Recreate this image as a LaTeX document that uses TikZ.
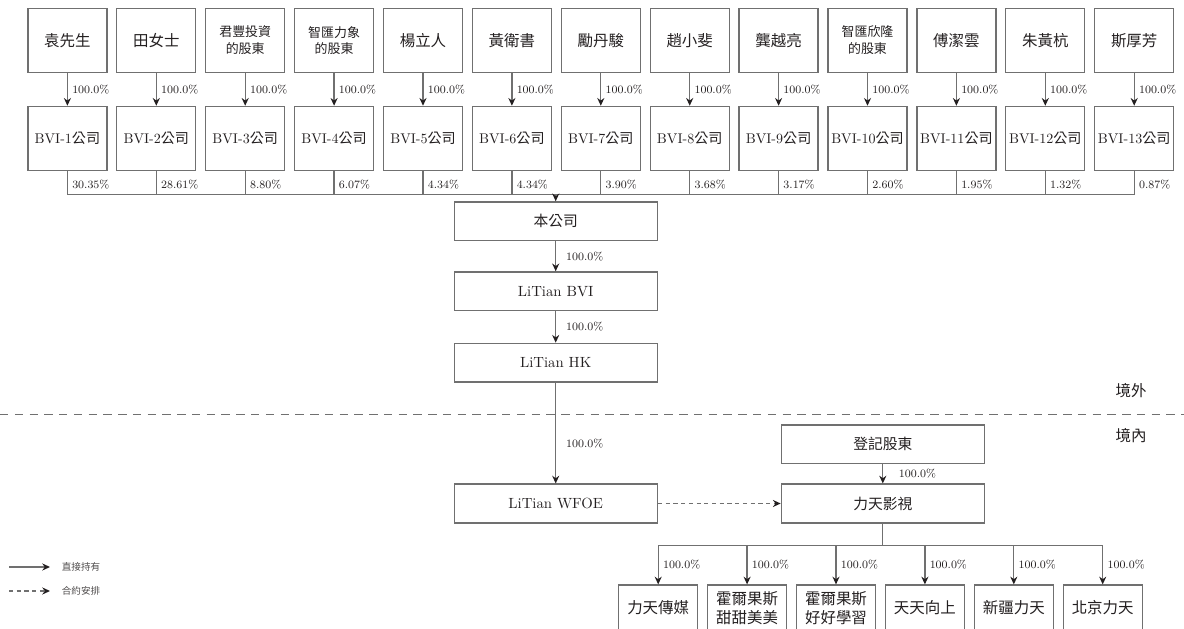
\documentclass[tikz,border=0pt]{standalone}
\usepackage{fontspec}
\newfontfamily\cjk{Noto Sans CJK TC}
\usetikzlibrary{arrows.meta}
\definecolor{ink}{HTML}{231F20}
\definecolor{linecol}{HTML}{707070}
\tikzset{
  box/.style={draw=linecol,line width=.9pt,inner sep=0pt,text=ink,align=center,
    font=\cjk\fontsize{11}{13}\selectfont},
  owner/.style={box,minimum width=1.975cm,minimum height=1.6cm},
  ownertwo/.style={owner,font=\cjk\fontsize{9.2}{12}\selectfont},
  bvibox/.style={owner,font=\cjk\fontsize{10}{12}\selectfont},
  mainbox/.style={box,minimum width=5.075cm,minimum height=.97cm,
    font=\cjk\fontsize{10.5}{12}\selectfont},
  subbox/.style={box,anchor=north,minimum width=1.975cm,minimum height=1.15cm,
    font=\cjk\fontsize{11}{13.5}\selectfont},
  line/.style={draw=linecol,line width=.9pt},
  arr/.style={line,-{Stealth[length=5.5pt,width=5pt,color=ink]}},
  pct/.style={right,inner sep=1pt,xshift=2pt,text=ink,font=\fontsize{8}{9}\selectfont},
  region/.style={text=ink,font=\cjk\fontsize{11}{13}\selectfont},
  legend/.style={right,inner sep=0pt,xshift=8pt,text=ink!80,font=\cjk\fontsize{6.8}{8}\selectfont}
}
\begin{document}
\begin{tikzpicture}[x=0.025cm,y=-0.025cm]
\useasboundingbox (0,0) rectangle (1184,629);
% shareholders
\node[owner] (o1) at (67.4,40.5){袁先生};
\node[owner] (o2) at (156.3,40.5){田女士};
\node[ownertwo] (o3) at (245.2,40.5){君豐投資\\的股東};
\node[ownertwo] (o4) at (334.1,40.5){智匯力象\\的股東};
\node[owner] (o5) at (423.0,40.5){楊立人};
\node[owner] (o6) at (511.9,40.5){黃衛書};
\node[owner] (o7) at (600.8,40.5){勵丹駿};
\node[owner] (o8) at (689.7,40.5){趙小斐};
\node[owner] (o9) at (778.6,40.5){龔越亮};
\node[ownertwo] (o10) at (867.5,40.5){智匯欣隆\\的股東};
\node[owner] (o11) at (956.4,40.5){傅潔雲};
\node[owner] (o12) at (1045.3,40.5){朱黃杭};
\node[owner] (o13) at (1134.2,40.5){斯厚芳};
% BVI companies
\node[bvibox] (bvi1) at (67.4,138.4){{\rmfamily BVI-1}公司};
\node[bvibox] (bvi2) at (156.3,138.4){{\rmfamily BVI-2}公司};
\node[bvibox] (bvi3) at (245.2,138.4){{\rmfamily BVI-3}公司};
\node[bvibox] (bvi4) at (334.1,138.4){{\rmfamily BVI-4}公司};
\node[bvibox] (bvi5) at (423.0,138.4){{\rmfamily BVI-5}公司};
\node[bvibox] (bvi6) at (511.9,138.4){{\rmfamily BVI-6}公司};
\node[bvibox] (bvi7) at (600.8,138.4){{\rmfamily BVI-7}公司};
\node[bvibox] (bvi8) at (689.7,138.4){{\rmfamily BVI-8}公司};
\node[bvibox] (bvi9) at (778.6,138.4){{\rmfamily BVI-9}公司};
\node[bvibox] (bvi10) at (867.5,138.4){{\rmfamily BVI-10}公司};
\node[bvibox] (bvi11) at (956.4,138.4){{\rmfamily BVI-11}公司};
\node[bvibox] (bvi12) at (1045.3,138.4){{\rmfamily BVI-12}公司};
\node[bvibox] (bvi13) at (1134.2,138.4){{\rmfamily BVI-13}公司};
\draw[arr] (o1) -- node[pct]{100.0\%} (bvi1);
\draw[arr] (o2) -- node[pct]{100.0\%} (bvi2);
\draw[arr] (o3) -- node[pct]{100.0\%} (bvi3);
\draw[arr] (o4) -- node[pct]{100.0\%} (bvi4);
\draw[arr] (o5) -- node[pct]{100.0\%} (bvi5);
\draw[arr] (o6) -- node[pct]{100.0\%} (bvi6);
\draw[arr] (o7) -- node[pct]{100.0\%} (bvi7);
\draw[arr] (o8) -- node[pct]{100.0\%} (bvi8);
\draw[arr] (o9) -- node[pct]{100.0\%} (bvi9);
\draw[arr] (o10) -- node[pct]{100.0\%} (bvi10);
\draw[arr] (o11) -- node[pct]{100.0\%} (bvi11);
\draw[arr] (o12) -- node[pct]{100.0\%} (bvi12);
\draw[arr] (o13) -- node[pct]{100.0\%} (bvi13);
% main chain
\coordinate (bus) at (555.7,194.4);
\node[mainbox] (company) at (555.7,221.3){本公司};
\node[mainbox] (ltbvi) at (555.7,291.3){\rmfamily LiTian BVI};
\node[mainbox] (lthk) at (555.7,362.7){\rmfamily LiTian HK};
\node[mainbox] (wfoe) at (555.7,503.5){\rmfamily LiTian WFOE};
\draw[line] (bvi1.south) |- node[pct,pos=.3]{30.35\%} (bus);
\draw[line] (bvi2.south) |- node[pct,pos=.3]{28.61\%} (bus);
\draw[line] (bvi3.south) |- node[pct,pos=.3]{8.80\%} (bus);
\draw[line] (bvi4.south) |- node[pct,pos=.3]{6.07\%} (bus);
\draw[line] (bvi5.south) |- node[pct,pos=.3]{4.34\%} (bus);
\draw[line] (bvi6.south) |- node[pct,pos=.3]{4.34\%} (bus);
\draw[line] (bvi7.south) |- node[pct,pos=.3]{3.90\%} (bus);
\draw[line] (bvi8.south) |- node[pct,pos=.3]{3.68\%} (bus);
\draw[line] (bvi9.south) |- node[pct,pos=.3]{3.17\%} (bus);
\draw[line] (bvi10.south) |- node[pct,pos=.3]{2.60\%} (bus);
\draw[line] (bvi11.south) |- node[pct,pos=.3]{1.95\%} (bus);
\draw[line] (bvi12.south) |- node[pct,pos=.3]{1.32\%} (bus);
\draw[line] (bvi13.south) |- node[pct,pos=.3]{0.87\%} (bus);
\draw[arr] (bus) -- (company);
\draw[arr] (company) -- node[pct,xshift=4pt]{100.0\%} (ltbvi);
\draw[arr] (ltbvi) -- node[pct,xshift=4pt]{100.0\%} (lthk);
\draw[arr] (lthk) -- node[pct,xshift=4pt,pos=.6]{100.0\%} (wfoe);
% onshore / offshore
\coordinate (divl) at (0,414.3);
\coordinate (divr) at (1184,414.3);
\draw[linecol,line width=.8pt,dash pattern=on 6pt off 4.5pt] (divl) -- (divr);
\node[region] (offshore) at (1131,391){境外};
\node[region] (onshore) at (1131,436){境內};
% domestic
\node[mainbox] (regholder) at (882.8,444.3){登記股東};
\node[mainbox] (ltfilm) at (882.8,503.5){力天影視};
\draw[arr] (regholder) -- node[pct,xshift=8pt]{100.0\%} (ltfilm);
\draw[arr,dash pattern=on 3pt off 2.5pt] (wfoe) -- (ltfilm);
\coordinate (subbus) at (882.8,545.5);
\draw[line] (ltfilm) -- (subbus);
\node[subbox] (sub1) at (658.2,584.4){力天傳媒};
\node[subbox] (sub2) at (747.1,584.4){霍爾果斯\\甜甜美美};
\node[subbox] (sub3) at (836.0,584.4){霍爾果斯\\好好學習};
\node[subbox] (sub4) at (924.9,584.4){天天向上};
\node[subbox] (sub5) at (1013.8,584.4){新疆力天};
\node[subbox] (sub6) at (1102.7,584.4){北京力天};
\draw[arr] (subbus) -| node[pct,pos=.75]{100.0\%} (sub1);
\draw[arr] (subbus) -| node[pct,pos=.75]{100.0\%} (sub2);
\draw[arr] (subbus) -| node[pct,pos=.75]{100.0\%} (sub3);
\draw[arr] (subbus) -| node[pct,pos=.75]{100.0\%} (sub4);
\draw[arr] (subbus) -| node[pct,pos=.75]{100.0\%} (sub5);
\draw[arr] (subbus) -| node[pct,pos=.75]{100.0\%} (sub6);
% legend
\coordinate (lga) at (9,567);
\coordinate (lgb) at (50,567);
\coordinate (lgc) at (9,591);
\coordinate (lgd) at (50,591);
\draw[arr] (lga) -- (lgb) node[legend] (lgsolid){直接持有};
\draw[arr,dash pattern=on 3pt off 2.5pt] (lgc) -- (lgd) node[legend] (lgdash){合約安排};
\end{tikzpicture}
\end{document}
